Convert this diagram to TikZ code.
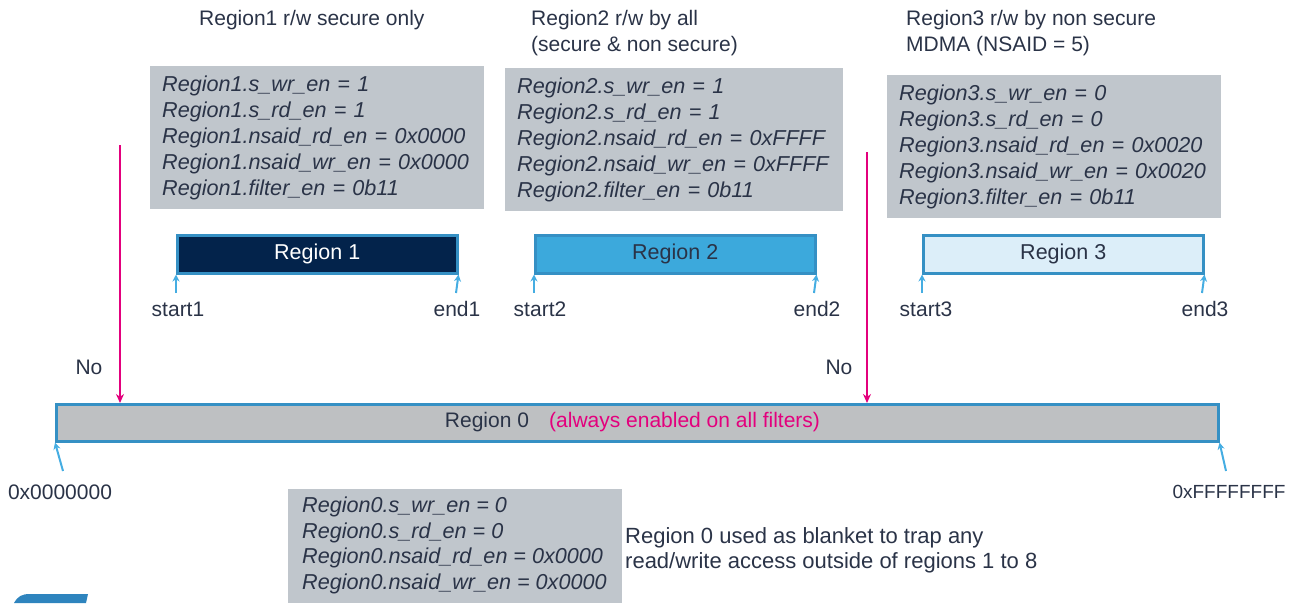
\documentclass[tikz,border=0pt]{standalone}
\usepackage{fontspec}
\setmainfont{Liberation Sans}
\usetikzlibrary{arrows.meta}
\definecolor{txt}{HTML}{2A3347}
\definecolor{boxgray}{HTML}{C0C6CC}
\definecolor{bargray}{HTML}{BEC0C2}
\definecolor{edgeblue}{HTML}{3590C4}
\definecolor{navy}{HTML}{03234B}
\definecolor{midblue}{HTML}{3CA9DC}
\definecolor{paleblue}{HTML}{DCEEF9}
\definecolor{lightarrow}{HTML}{45ADE2}
\definecolor{stpink}{HTML}{E3007D}
\definecolor{logoblue}{HTML}{2E84BE}
\tikzset{
  lbl/.style={font=\fontsize{21}{26}\selectfont, text=txt, inner sep=0pt},
  codebox/.style={fill=boxgray, draw=none, anchor=north west, align=left,
    text width=310pt, inner xsep=12pt, inner ysep=0pt, minimum height=143pt,
    font=\fontsize{21.6}{26}\selectfont\itshape, text=txt},
  regbar/.style={draw=edgeblue, line width=2.5pt, minimum width=280pt,
    minimum height=38pt, inner sep=0pt, font=\fontsize{21.5}{26}\selectfont},
  tick/.style={draw=lightarrow, line width=2pt, -{Stealth[length=7pt,width=7pt]}},
  pinkarr/.style={draw=stpink, line width=2pt, -{Stealth[length=9pt,width=8pt]}},
}
\begin{document}
\begin{tikzpicture}[x=1pt,y=-1pt]
\useasboundingbox (0,0) rectangle (1294,603);
% titles
\node[lbl, anchor=west] (title1) at (199,20) {Region1 r/w secure only};
\node[lbl, anchor=north west, align=left] (title2) at (531,10) {Region2 r/w by all\\(secure \& non secure)};
\node[lbl, anchor=north west, align=left] (title3) at (906,10) {Region3 r/w by non secure\\MDMA (NSAID = 5)};
% code boxes
\node[codebox] (cb1) at (150,66) {Region1.s\_wr\_en = 1\\Region1.s\_rd\_en = 1\\Region1.nsaid\_rd\_en = 0x0000\\Region1.nsaid\_wr\_en = 0x0000\\Region1.filter\_en = 0b11};
\node[codebox, text width=314pt] (cb2) at (505,68) {Region2.s\_wr\_en = 1\\Region2.s\_rd\_en = 1\\Region2.nsaid\_rd\_en = 0xFFFF\\Region2.nsaid\_wr\_en = 0xFFFF\\Region2.filter\_en = 0b11};
\node[codebox] (cb3) at (887,75) {Region3.s\_wr\_en = 0\\Region3.s\_rd\_en = 0\\Region3.nsaid\_rd\_en = 0x0020\\Region3.nsaid\_wr\_en = 0x0020\\Region3.filter\_en = 0b11};
% region bars
\node[regbar, fill=navy, text=white, anchor=north west] (r1) at (176,234) {Region 1};
\node[regbar, fill=midblue, text=txt, anchor=north west] (r2) at (534,234) {Region 2};
\node[regbar, fill=paleblue, text=txt, anchor=north west] (r3) at (922,234) {Region 3};
% start / end labels
\node[lbl] (s1) at (178,309) {start1};
\node[lbl] (e1) at (457,309) {end1};
\node[lbl] (s2) at (540,309) {start2};
\node[lbl] (e2) at (817,309) {end2};
\node[lbl] (s3) at (926,309) {start3};
\node[lbl] (e3) at (1205,309) {end3};
\coordinate (cs1) at (176,293);
\coordinate (ce1) at (456,293);
\coordinate (cs2) at (534,293);
\coordinate (ce2) at (814,293);
\coordinate (cs3) at (922,293);
\coordinate (ce3) at (1202,293);
\draw[tick] (cs1) -- (r1.south west);
\draw[tick] (ce1) -- (r1.south east);
\draw[tick] (cs2) -- (r2.south west);
\draw[tick] (ce2) -- (r2.south east);
\draw[tick] (cs3) -- (r3.south west);
\draw[tick] (ce3) -- (r3.south east);
% region 0 bar
\node[draw=edgeblue, line width=2.5pt, fill=bargray, minimum width=1162pt, minimum height=37pt, inner sep=0pt, anchor=north west] (r0) at (55,403) {};
\node[lbl, anchor=center] (r0lbl) at (487,422) {Region 0};
\node[lbl, anchor=west, text=stpink] (r0note) at (549,422) {(always enabled on all filters)};
% pink arrows
\coordinate (p1) at (120,145);
\coordinate (p2) at (867,152);
\draw[pinkarr] (p1) -- (p1 |- r0.north);
\draw[pinkarr] (p2) -- (p2 |- r0.north);
\node[lbl] (no1) at (89,367) {No};
\node[lbl] (no2) at (839,367) {No};
% addresses
\node[lbl] (a0) at (60,492) {0x0000000};
\node[lbl, font=\fontsize{19}{24}\selectfont] (a1) at (1229,492) {0xFFFFFFFF};
\coordinate (ca0) at (63,471);
\coordinate (ca1) at (1226,471);
\draw[tick] (ca0) -- (r0.south west);
\draw[tick] (ca1) -- (r0.south east);
% region 0 box
\fill[boxgray] (288,489) rectangle (622,603);
\node[font=\fontsize{21.6}{25.5}\selectfont\itshape, text=txt, align=left, anchor=north west, inner sep=0pt] (cb0) at (302,497) {Region0.s\_wr\_en = 0\\Region0.s\_rd\_en = 0\\Region0.nsaid\_rd\_en = 0x0000\\Region0.nsaid\_wr\_en = 0x0000};
\node[lbl, anchor=west, align=left, font=\fontsize{22}{25}\selectfont] (note) at (625,550) {Region 0 used as blanket to trap any\\read/write access outside of regions 1 to 8};
% logo fragment
\fill[logoblue] (14,603) .. controls (18,596) and (22,594) .. (30,594) -- (88,594) -- (86,603) -- cycle;
\end{tikzpicture}
\end{document}
